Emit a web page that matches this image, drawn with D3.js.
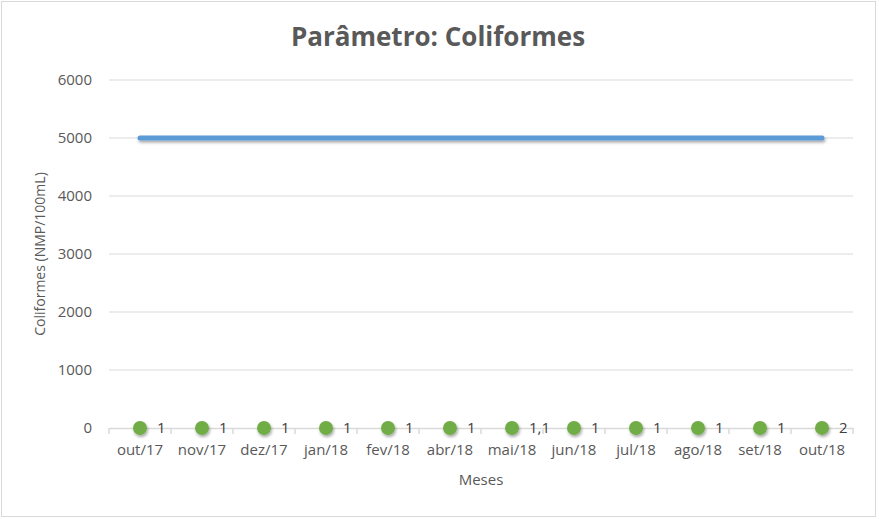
<!DOCTYPE html>
<html><head><meta charset="utf-8">
<script src="https://cdn.jsdelivr.net/npm/d3@7"></script>
<style>body{margin:0;background:#fff}svg{display:block}</style>
</head><body><svg id="c" width="879" height="519"></svg>
<script>
const categories = ["out/17","nov/17","dez/17","jan/18","fev/18","abr/18","mai/18","jun/18","jul/18","ago/18","set/18","out/18"];
const coliformes = [1,1,1,1,1,1,1.1,1,1,1,1,2];
const limite = [5000,5000,5000,5000,5000,5000,5000,5000,5000,5000,5000,5000];
const yTicks = [0,1000,2000,3000,4000,5000,6000];
const labels = ["1","1","1","1","1","1","1,1","1","1","1","1","2"];

const svg = d3.select("#c");
const font = "'Open Sans', 'Noto Sans', sans-serif";
const m = {l:109, r:853, t:80, b:428};
svg.append("rect").attr("x",1.5).attr("y",1.5).attr("width",874).attr("height",515)
  .attr("fill","#fff").attr("stroke","#d9d9d9");

const defs = svg.append("defs");
const f = defs.append("filter").attr("id","sh").attr("filterUnits","userSpaceOnUse")
  .attr("x",0).attr("y",0).attr("width",879).attr("height",519);
f.append("feDropShadow").attr("dx",1).attr("dy",2).attr("stdDeviation",1.8).attr("flood-color","#000").attr("flood-opacity",0.35);

const x = d3.scaleBand().domain(categories).range([m.l,m.r]);
const y = d3.scaleLinear().domain([0,6000]).range([m.b,m.t]);

// gridlines
svg.append("g").selectAll("line").data(yTicks.filter(d=>d>0)).join("line")
  .attr("x1",m.l).attr("x2",m.r).attr("y1",d=>y(d)).attr("y2",d=>y(d))
  .attr("stroke","#d9d9d9").attr("stroke-width",1);

// y axis labels
const ya = svg.append("g").attr("transform",`translate(${m.l},0)`)
  .call(d3.axisLeft(y).tickValues(yTicks).tickSize(0).tickPadding(17).tickFormat(d3.format("d")));
ya.select(".domain").remove();
ya.selectAll("text").attr("font-family",font).attr("font-size",15).attr("fill","#595959");

// x axis
const xa = svg.append("g").attr("transform",`translate(0,${m.b})`)
  .call(d3.axisBottom(x).tickSize(0).tickPadding(16));
xa.select(".domain").attr("stroke","#d9d9d9").attr("stroke-width",1.5);
xa.selectAll("text").attr("font-family",font).attr("font-size",15).attr("fill","#595959");
// tick marks at band boundaries
const bounds = categories.map(c=>x(c)).concat([m.r]);
svg.append("g").selectAll("line").data(bounds).join("line")
  .attr("x1",d=>d).attr("x2",d=>d).attr("y1",m.b).attr("y2",m.b+6)
  .attr("stroke","#d9d9d9").attr("stroke-width",1.5);

const cx = c => x(c) + x.bandwidth()/2;

// limit line
const line = d3.line().x((d,i)=>cx(categories[i])).y(d=>y(d));
svg.append("path").datum(limite).attr("d",line).attr("fill","none")
  .attr("stroke","#5B9BD5").attr("stroke-width",5).attr("stroke-linecap","round").attr("filter","url(#sh)");

// points
svg.append("g").selectAll("circle").data(coliformes).join("circle")
  .attr("cx",(d,i)=>cx(categories[i])).attr("cy",d=>y(d)).attr("r",7)
  .attr("fill","#70AD47").attr("filter","url(#sh)");
svg.append("g").selectAll("text").data(coliformes).join("text")
  .attr("x",(d,i)=>cx(categories[i])+17).attr("y",d=>y(d)+5)
  .attr("font-family",font).attr("font-size",15).attr("fill","#404040")
  .text((d,i)=>labels[i]);

// titles
svg.append("text").attr("x",438).attr("y",46).attr("text-anchor","middle")
  .attr("font-family",font).attr("font-size",26).attr("font-weight","bold").attr("fill","#595959")
  .text("Parâmetro: Coliformes");
svg.append("text").attr("x",(m.l+m.r)/2).attr("y",485).attr("text-anchor","middle")
  .attr("font-family",font).attr("font-size",15).attr("fill","#595959").text("Meses");
svg.append("text").attr("transform",`translate(45,${(m.t+m.b)/2}) rotate(-90)`).attr("text-anchor","middle")
  .attr("font-family",font).attr("font-size",14).attr("fill","#595959").text("Coliformes (NMP/100mL)");
</script></body></html>
